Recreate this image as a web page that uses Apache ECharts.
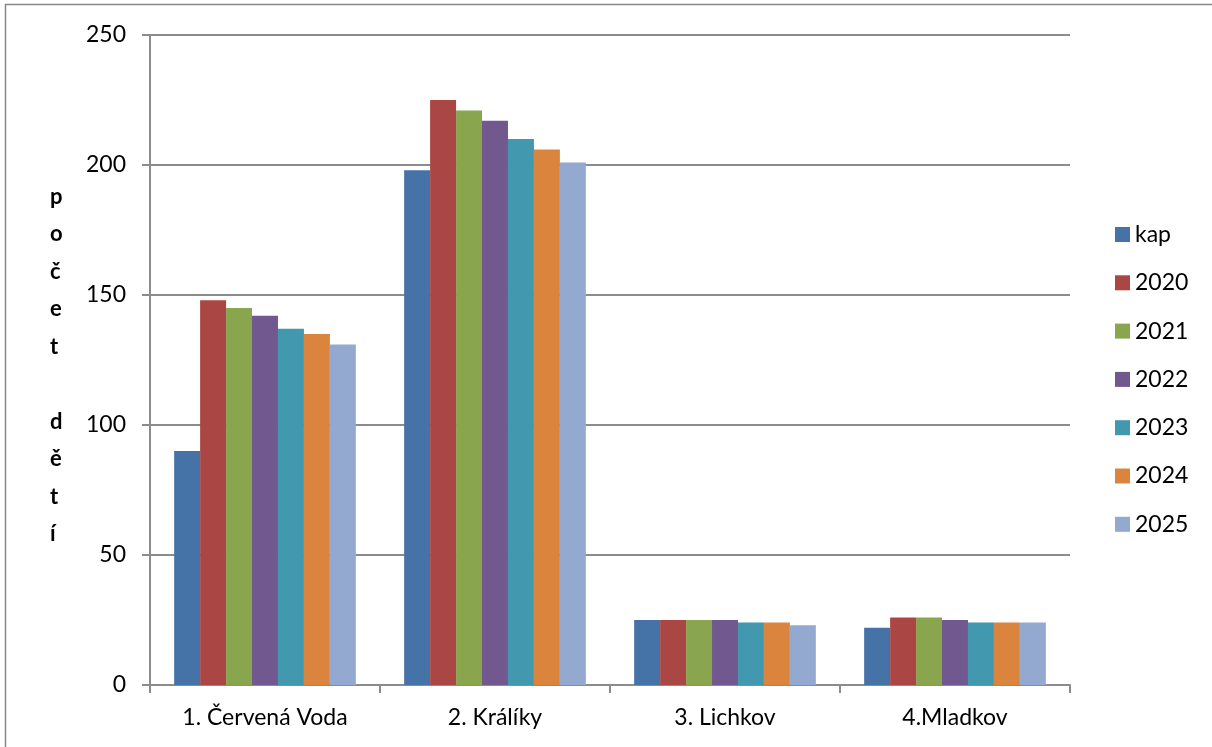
<!DOCTYPE html>
<html>
<head>
<meta charset="utf-8">
<script src="https://cdn.jsdelivr.net/npm/echarts@6/dist/echarts.min.js"></script>
<style>html,body{margin:0;padding:0;background:#fff}#c{width:1212px;height:747px}</style>
</head>
<body>
<div id="c"></div>
<script>
const categories = ['1. Červená Voda', '2. Králíky', '3. Lichkov', '4.Mladkov'];
const seriesNames = ['kap', '2020', '2021', '2022', '2023', '2024', '2025'];
const kap = [90, 198, 25, 22];
const y2020 = [148, 225, 25, 26];
const y2021 = [145, 221, 25, 26];
const y2022 = [142, 217, 25, 25];
const y2023 = [137, 210, 24, 24];
const y2024 = [135, 206, 24, 24];
const y2025 = [131, 201, 23, 24];
const yTicks = [0, 50, 100, 150, 200, 250];
const colors = ['#4572A7', '#AA4643', '#89A54E', '#71588F', '#4198AF', '#DB843D', '#93A9CF'];
const values = [kap, y2020, y2021, y2022, y2023, y2024, y2025];

const font = 'Lato, "Open Sans", sans-serif';
const chart = echarts.init(document.getElementById('c'));
chart.setOption({
  animation: false,
  color: colors,
  grid: { left: 150, right: 142, top: 35, bottom: 62, containLabel: false },
  legend: {
    orient: 'vertical', left: 1110, top: 218,
    icon: 'rect', itemWidth: 15, itemHeight: 15, itemGap: 25.3,
    textStyle: { fontFamily: font, fontSize: 23, color: '#000', lineHeight: 22, padding: [0,0,0,0] },
    data: seriesNames
  },
  graphic: [
    { type: 'rect', shape: { x: 5.5, y: 4.5, width: 1300, height: 800 }, style: { fill: 'none', stroke: '#888', lineWidth: 1.5 }, silent: true },
    { type: 'text', left: 50, top: 178, style: {
      text: 'p\no\nč\ne\nt\n\nd\ně\nt\ní', fontFamily: font, fontWeight: 'bold', fontSize: 22, lineHeight: 37.5, fill: '#000', align: 'center'
    } }
  ],
  xAxis: {
    type: 'category', data: categories,
    axisLine: { lineStyle: { color: '#8c8c8c', width: 2 } },
    axisTick: { show: true, length: 8, lineStyle: { color: '#8c8c8c', width: 2 } },
    axisLabel: { fontFamily: font, fontSize: 23, color: '#000', margin: 21 }
  },
  yAxis: {
    type: 'value', min: 0, max: 250, interval: 50,
    axisLine: { show: true, lineStyle: { color: '#8c8c8c', width: 2 } },
    axisTick: { show: true, length: 8, lineStyle: { color: '#8c8c8c', width: 2 } },
    splitLine: { lineStyle: { color: '#8c8c8c', width: 2 } },
    axisLabel: { fontFamily: font, fontSize: 23, color: '#000', margin: 24,
      formatter: v => yTicks.includes(v) ? String(v) : '' }
  },
  series: seriesNames.map((n, i) => ({
    name: n, type: 'bar', data: values[i],
    barGap: '0%', barCategoryGap: '21%',
    itemStyle: { color: colors[i] }
  }))
});
</script>
</body>
</html>
